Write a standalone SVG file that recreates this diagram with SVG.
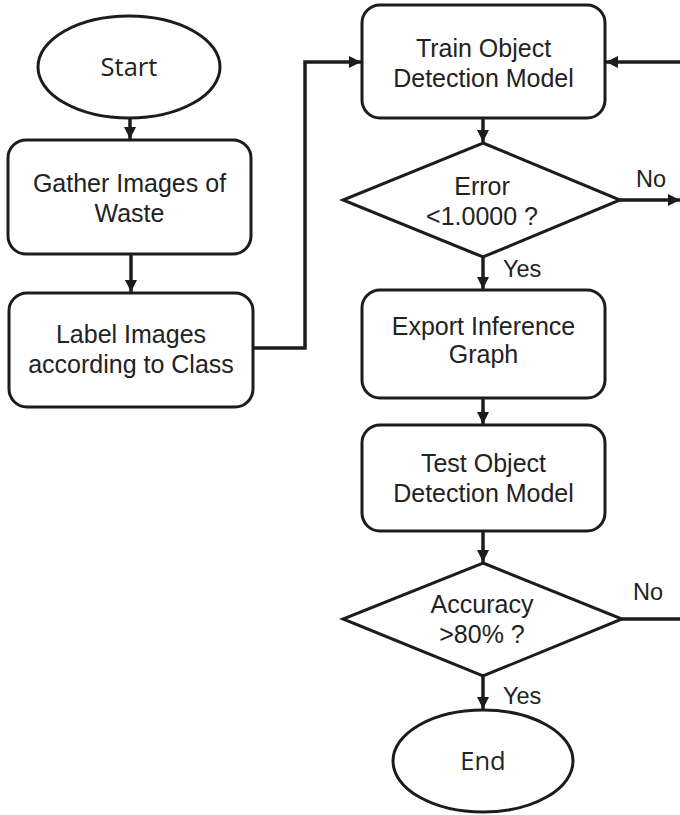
<svg xmlns="http://www.w3.org/2000/svg" width="680" height="815" viewBox="0 0 680 815">
  <style>
    .shape { fill: #ffffff; stroke: #1c1c1c; stroke-width: 3; }
    .link { fill: none; stroke: #1c1c1c; stroke-width: 3.5; }
    .lbl { font-family: "Liberation Sans", Arial, sans-serif; font-size: 25px; fill: #222222; text-anchor: middle; }
    .term { font-family: "Open Sans", "Noto Sans", sans-serif; font-size: 25.5px; fill: #222222; text-anchor: middle; }
    .side { font-family: "Liberation Sans", Arial, sans-serif; font-size: 23.5px; fill: #222222; }
  </style>
  <defs>
    <marker id="arrow" viewBox="0 0 10 10" refX="10" refY="5" markerWidth="3.5" markerHeight="3.5" orient="auto" markerUnits="strokeWidth">
      <path d="M0,0 L10,5 L0,10 Z" fill="#1c1c1c"/>
    </marker>
  </defs>
  <rect width="680" height="815" fill="#ffffff"/>

  <g id="connectors">
    <line class="link" x1="130" y1="118" x2="130" y2="139" marker-end="url(#arrow)"/>
    <line class="link" x1="131" y1="254" x2="131" y2="292" marker-end="url(#arrow)"/>
    <polyline class="link" points="253,348 305,348 305,62 361,62" marker-end="url(#arrow)"/>
    <line class="link" x1="680" y1="62" x2="606" y2="62" marker-end="url(#arrow)"/>
    <line class="link" x1="483" y1="118" x2="483" y2="142" marker-end="url(#arrow)"/>
    <line class="link" x1="620" y1="200" x2="680" y2="200" marker-end="url(#arrow)"/>
    <line class="link" x1="483" y1="257" x2="483" y2="289" marker-end="url(#arrow)"/>
    <line class="link" x1="483" y1="398" x2="483" y2="424" marker-end="url(#arrow)"/>
    <line class="link" x1="483" y1="531" x2="483" y2="562" marker-end="url(#arrow)"/>
    <line class="link" x1="622" y1="619" x2="680" y2="619"/>
    <line class="link" x1="483" y1="676" x2="483" y2="709" marker-end="url(#arrow)"/>
    <text class="side" x="636" y="187">No</text>
    <text class="side" x="503" y="277">Yes</text>
    <text class="side" x="633" y="600">No</text>
    <text class="side" x="503" y="704">Yes</text>
  </g>

  <g id="start">
    <ellipse class="shape" cx="129" cy="67" rx="91" ry="51"/>
    <text class="term" x="129" y="76">Start</text>
  </g>

  <g id="gather">
    <rect class="shape" x="8" y="140" width="243" height="114" rx="18"/>
    <text class="lbl" x="129.5" y="192">Gather Images of</text>
    <text class="lbl" x="129.5" y="222">Waste</text>
  </g>

  <g id="label">
    <rect class="shape" x="9" y="293" width="244" height="114" rx="18"/>
    <text class="lbl" x="131" y="343">Label Images</text>
    <text class="lbl" x="131" y="373">according to Class</text>
  </g>

  <g id="train">
    <rect class="shape" x="362" y="5" width="243" height="113" rx="18"/>
    <text class="lbl" x="483.5" y="57">Train Object</text>
    <text class="lbl" x="483.5" y="87">Detection Model</text>
  </g>

  <g id="error-check">
    <polygon class="shape" points="483,143 620,200 483,257 343,200"/>
    <text class="lbl" x="482" y="195">Error</text>
    <text class="lbl" x="482" y="225">&lt;1.0000 ?</text>
  </g>

  <g id="export">
    <rect class="shape" x="362" y="290" width="243" height="108" rx="18"/>
    <text class="lbl" x="483.5" y="335">Export Inference</text>
    <text class="lbl" x="483.5" y="363">Graph</text>
  </g>

  <g id="test">
    <rect class="shape" x="362" y="425" width="243" height="106" rx="18"/>
    <text class="lbl" x="483.5" y="472">Test Object</text>
    <text class="lbl" x="483.5" y="502">Detection Model</text>
  </g>

  <g id="accuracy-check">
    <polygon class="shape" points="483,563 622,619 483,676 343,619"/>
    <text class="lbl" x="482" y="613">Accuracy</text>
    <text class="lbl" x="482" y="643">&gt;80% ?</text>
  </g>

  <g id="end">
    <ellipse class="shape" cx="483" cy="761" rx="90" ry="51"/>
    <text class="term" x="483" y="770">End</text>
  </g>
</svg>
